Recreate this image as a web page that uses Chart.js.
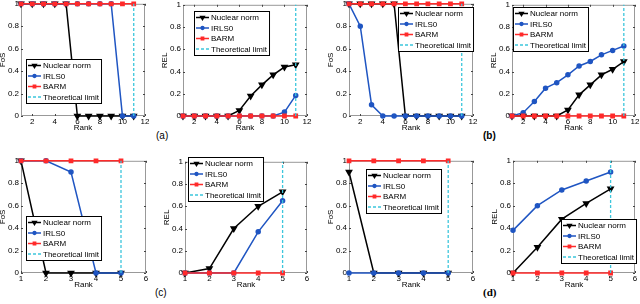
<!DOCTYPE html>
<html>
<head>
<meta charset="utf-8">
<script src="https://cdn.jsdelivr.net/npm/chart.js@4"></script>
<style>
  body { margin: 0; background: #fff; width: 640px; height: 304px; overflow: hidden; position: relative; font-family: "Liberation Sans", Arial, sans-serif; }
  .panel { position: absolute; }
  .tag { position: absolute; font-size: 10px; color: #000; }
</style>
</head>
<body>
<div class="tag" style="left:156px;top:130px">(a)</div>
<div class="tag" style="left:483px;top:130px;font-weight:bold">(b)</div>
<div class="tag" style="left:155px;top:287px">(c)</div>
<div class="tag" style="left:483px;top:286px;font-family:'Liberation Serif';font-weight:bold;font-size:11px">(d)</div>

<script>
// x values and tick labels
const ranks11 = [1, 2, 3, 4, 5, 6, 7, 8, 9, 10, 11];
const ranks5 = [1, 2, 3, 4, 5];
const ticks12 = [2, 4, 6, 8, 10, 12];
const ticks6 = [1, 2, 3, 4, 5, 6];
const yTicks = [0, 0.2, 0.4, 0.6, 0.8, 1];

// (a)
const fosNuclearA = [1, 1, 1, 1, 1, 0, 0, 0, 0, 0, 0];
const fosIrlsA    = [1, 1, 1, 1, 1, 1, 1, 1, 1, 0, 0];
const fosBarmA    = [1, 1, 1, 1, 1, 1, 1, 1, 1, 1, 1];
const relNuclearA = [0, 0, 0, 0, 0, 0.05, 0.18, 0.28, 0.37, 0.44, 0.46];
const relIrlsA    = [0, 0, 0, 0, 0, 0, 0, 0, 0, 0.035, 0.185];
const relBarmA    = [0, 0, 0, 0, 0, 0, 0, 0, 0, 0, 0];
const limitA = 11;

// (b)
const fosNuclearB = [1, 1, 1, 1, 1, 0, 0, 0, 0, 0, 0];
const fosIrlsB    = [1, 0.8, 0.1, 0, 0, 0, 0, 0, 0, 0, 0];
const fosBarmB    = [1, 1, 1, 1, 1, 1, 1, 1, 1, 1, 1];
const relNuclearB = [0, 0, 0, 0, 0, 0.055, 0.19, 0.28, 0.37, 0.42, 0.49];
const relIrlsB    = [0, 0.03, 0.13, 0.25, 0.30, 0.37, 0.45, 0.49, 0.55, 0.59, 0.63];
const relBarmB    = [0, 0, 0, 0, 0, 0, 0, 0, 0, 0, 0];
const limitB = 11;

// (c)
const fosNuclearC = [1, 0, 0, 0, 0];
const fosIrlsC    = [1, 1, 0.9, 0, 0];
const fosBarmC    = [1, 1, 1, 1, 1];
const relNuclearC = [0, 0.04, 0.40, 0.60, 0.73];
const relIrlsC    = [0, 0, 0, 0.37, 0.65];
const relBarmC    = [0, 0, 0, 0, 0];
const limitC = 5;

// (d)
const fosNuclearD = [0.9, 0, 0, 0, 0];
const fosIrlsD    = [0, 0, 0, 0, 0];
const fosBarmD    = [1, 1, 1, 1, 1];
const relNuclearD = [0, 0.23, 0.48, 0.62, 0.75];
const relIrlsD    = [0.38, 0.60, 0.74, 0.82, 0.90];
const relBarmD    = [0, 0, 0, 0, 0];
const limitD = 5;

const FONT = "'Liberation Sans', Arial, sans-serif";
const BLUE = '#1f55c2', RED = '#ff2a2a', CYAN = '#3cc6dc';

function pts(xs, ys) { return xs.map((x, i) => ({ x: x, y: ys[i] })); }

function makeSets(xs, nuc, irls, barm, limit) {
  return [
    { label: 'Nuclear norm', data: pts(xs, nuc), borderColor: '#000', backgroundColor: '#000',
      pointStyle: 'triangle', rotation: 180, pointRadius: 3, borderWidth: 1.5, order: 4 },
    { label: 'IRLS0', data: pts(xs, irls), borderColor: BLUE, backgroundColor: BLUE,
      pointStyle: 'circle', pointRadius: 2, borderWidth: 1.5, order: 3 },
    { label: 'BARM', data: pts(xs, barm), borderColor: RED, backgroundColor: RED,
      pointStyle: 'rect', pointRadius: 2.3, borderWidth: 1.5, order: 2 },
    { label: 'Theoretical limit', data: [{ x: limit, y: 0 }, { x: limit, y: 1 }], borderColor: CYAN,
      backgroundColor: CYAN, borderDash: [3, 2], pointRadius: 0, borderWidth: 1.3, order: 1 }
  ];
}

// box around the plot with small inward ticks
const framePlugin = {
  id: 'frame',
  beforeDatasetsDraw(chart) {
    const a = chart.chartArea, ctx = chart.ctx;
    const xs = chart.scales.x, ys = chart.scales.y;
    ctx.save();
    ctx.strokeStyle = '#999';
    ctx.lineWidth = 1;
    ctx.strokeRect(a.left + 0.5, a.top + 0.5, a.right - a.left - 1, a.bottom - a.top - 1);
    ctx.strokeStyle = '#444';
    ctx.beginPath();
    xs.ticks.forEach(t => {
      const px = Math.round(xs.getPixelForValue(t.value)) + 0.5;
      ctx.moveTo(px, a.bottom); ctx.lineTo(px, a.bottom - 2);
      ctx.moveTo(px, a.top); ctx.lineTo(px, a.top + 2);
    });
    ys.ticks.forEach(t => {
      const py = Math.round(ys.getPixelForValue(t.value)) + 0.5;
      ctx.moveTo(a.left, py); ctx.lineTo(a.left + 2, py);
      ctx.moveTo(a.right, py); ctx.lineTo(a.right - 2, py);
    });
    ctx.stroke();
    ctx.restore();
  }
};

// legend box placed inside the axes, like matlab
const boxLegend = {
  id: 'boxLegend',
  afterDatasetsDraw(chart, args, opts) {
    const ctx = chart.ctx;
    const sets = chart.data.datasets;
    ctx.save();
    ctx.font = '8px ' + FONT;
    let tw = 0;
    sets.forEach(d => { tw = Math.max(tw, ctx.measureText(d.label).width); });
    const rowH = 10.5, sample = 13;
    const w = 2 + sample + 2 + tw + 2, h = 44;
    const x0 = opts.x, y0 = opts.y;
    ctx.fillStyle = '#fff';
    ctx.fillRect(x0, y0, w, h);
    ctx.strokeStyle = '#000';
    ctx.lineWidth = 1;
    ctx.strokeRect(x0 + 0.5, y0 + 0.5, w, h);
    sets.forEach((d, i) => {
      const cy = y0 + 6.5 + rowH * i;
      ctx.strokeStyle = d.borderColor;
      ctx.lineWidth = d.borderWidth;
      ctx.setLineDash(d.borderDash || []);
      ctx.beginPath();
      ctx.moveTo(x0 + 2, cy); ctx.lineTo(x0 + 2 + sample, cy);
      ctx.stroke();
      ctx.setLineDash([]);
      if (d.pointRadius > 0) {
        ctx.fillStyle = d.backgroundColor;
        Chart.helpers.drawPoint(ctx, { pointStyle: d.pointStyle, rotation: d.rotation || 0,
          radius: d.pointRadius * 0.7, borderWidth: 1 }, x0 + 2 + sample / 2, cy);
      }
      ctx.fillStyle = '#000';
      ctx.textBaseline = 'middle';
      ctx.fillText(d.label, x0 + 2 + sample + 2, cy + 0.5);
    });
    ctx.restore();
  }
};

const YW = 22, XH = 16, PT = 6, PR = 8;

function panel(rect, title, sets, xMax, xTicks, legendAt) {
  const cv = document.createElement('canvas');
  const left = rect.l - YW, top = rect.t - PT;
  const w = rect.r - rect.l + YW + PR, h = rect.b - rect.t + PT + XH;
  const box = document.createElement('div');
  box.className = 'panel';
  box.style.cssText = `left:${left}px;top:${top}px;width:${w}px;height:${h}px`;
  box.appendChild(cv);
  document.body.appendChild(box);
  const noGrid = { display: false, drawTicks: false, tickLength: 0 };
  new Chart(cv, {
    type: 'line',
    data: { datasets: sets },
    plugins: [framePlugin, boxLegend],
    options: {
      responsive: true,
      maintainAspectRatio: false,
      animation: false,
      layout: { padding: { top: PT, right: PR, left: 0, bottom: 0 } },
      datasets: { line: { clip: false, fill: false, tension: 0 } },
      scales: {
        x: {
          type: 'linear', min: 1, max: xMax,
          afterBuildTicks: s => { s.ticks = xTicks.map(v => ({ value: v })); },
          afterFit: s => { s.height = XH; },
          grid: noGrid, border: { display: false },
          ticks: { color: '#000', padding: 1, font: { size: 8, family: FONT }, callback: v => v },
          title: { display: true, text: 'Rank', color: '#000', padding: 0, font: { size: 8, family: FONT, lineHeight: 1 } }
        },
        y: {
          min: 0, max: 1,
          afterBuildTicks: s => { s.ticks = yTicks.map(v => ({ value: v })); },
          afterFit: s => { s.width = YW; },
          grid: noGrid, border: { display: false },
          ticks: { color: '#000', padding: 2, font: { size: 8, family: FONT }, callback: v => String(+v.toFixed(1)) },
          title: { display: true, text: title, color: '#000', padding: 0, font: { size: 8, family: FONT, lineHeight: 1 } }
        }
      },
      plugins: {
        legend: { display: false },
        tooltip: { enabled: false },
        boxLegend: { x: legendAt[0] - left, y: legendAt[1] - top }
      }
    }
  });
}

panel({ l: 21, t: 3, r: 145, b: 116 }, 'FoS', makeSets(ranks11, fosNuclearA, fosIrlsA, fosBarmA, limitA), 12, ticks12, [26, 59]);
panel({ l: 183, t: 4, r: 307, b: 116 }, 'REL', makeSets(ranks11, relNuclearA, relIrlsA, relBarmA, limitA), 12, ticks12, [194, 11]);
panel({ l: 349, t: 3, r: 473, b: 116 }, 'FoS', makeSets(ranks11, fosNuclearB, fosIrlsB, fosBarmB, limitB), 12, ticks12, [398, 7]);
panel({ l: 512, t: 4, r: 635, b: 116 }, 'REL', makeSets(ranks11, relNuclearB, relIrlsB, relBarmB, limitB), 12, ticks12, [513, 7]);
panel({ l: 21, t: 160, r: 146, b: 273 }, 'FoS', makeSets(ranks5, fosNuclearC, fosIrlsC, fosBarmC, limitC), 6, ticks6, [26, 216]);
panel({ l: 185, t: 161, r: 307, b: 273 }, 'REL', makeSets(ranks5, relNuclearC, relIrlsC, relBarmC, limitC), 6, ticks6, [188, 157]);
panel({ l: 349, t: 160, r: 473, b: 273 }, 'FoS', makeSets(ranks5, fosNuclearD, fosIrlsD, fosBarmD, limitD), 6, ticks6, [366, 169]);
panel({ l: 513, t: 160, r: 635, b: 273 }, 'REL', makeSets(ranks5, relNuclearD, relIrlsD, relBarmD, limitD), 6, ticks6, [561, 219]);
</script>
</body>
</html>
